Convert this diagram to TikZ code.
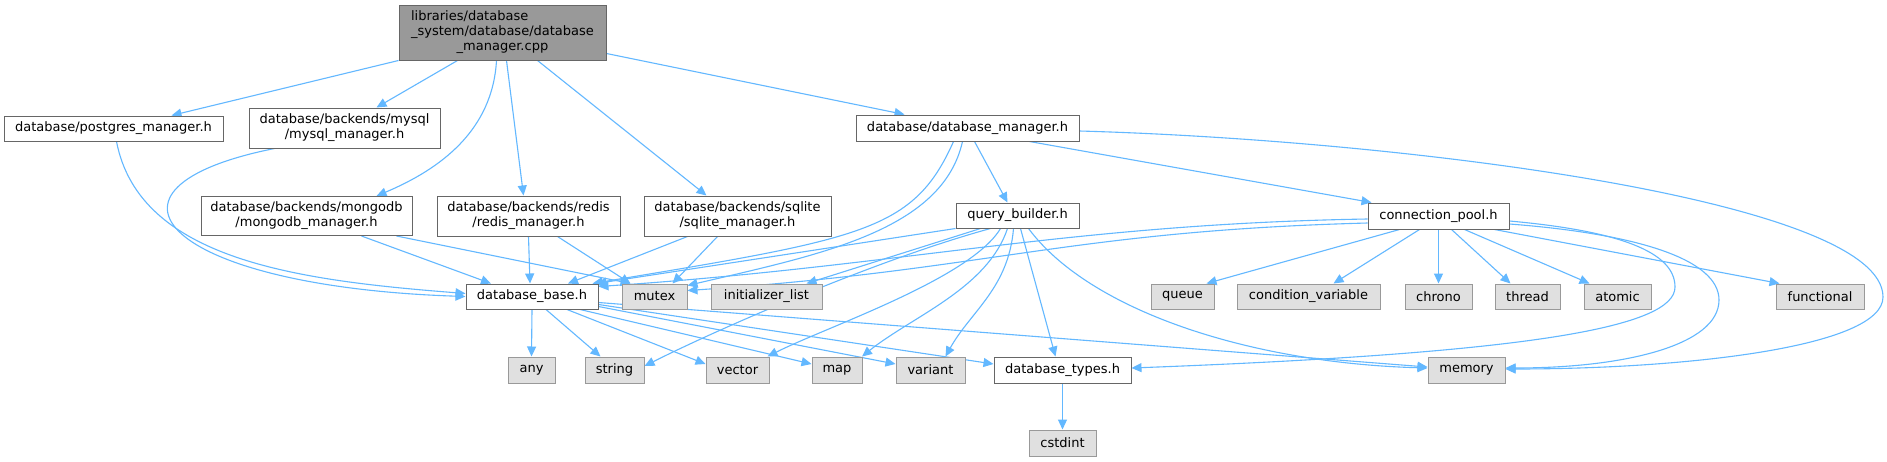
\documentclass[tikz,border=0pt]{standalone}
\usepackage{fontspec}
\setmainfont{DejaVu Sans}
\usetikzlibrary{arrows.meta}
\pgfdeclarelayer{edgelayer}
\pgfsetlayers{edgelayer,main}
\definecolor{edgec}{HTML}{63B8FF}
\definecolor{nodeb}{HTML}{666666}
\definecolor{extb}{HTML}{999999}
\definecolor{extf}{HTML}{E0E0E0}
\definecolor{rootf}{HTML}{999999}
\begin{document}
\begin{tikzpicture}[x=1pt,y=-1pt,
  box/.style={draw=nodeb, fill=white, line width=1pt, inner sep=0pt, align=center,
              font=\fontsize{13}{15}\selectfont, text=black},
  ext/.style={box, draw=extb, fill=extf},
  rootbox/.style={box, fill=rootf},
  dep/.style={draw=edgec, line width=1.1pt, -{Triangle[length=10pt,width=9pt]}}]
\begin{pgfonlayer}{edgelayer}
\fill[white] (0,0) rectangle (1887,461);
\end{pgfonlayer}
\useasboundingbox (0,0) rectangle (1887,461);

% nodes
\node[rootbox, minimum width=207pt, minimum height=55pt] (root) at (502.5,32.5)
  {\begin{tabular}{@{}l@{}}libraries/database\\\_system/database/database\\\multicolumn{1}{@{}c@{}}{\_manager.cpp}\end{tabular}};
\node[box, minimum width=219pt, minimum height=25pt] (postgres) at (113.5,128.5) {database/postgres\_manager.h};
\node[box, minimum width=191pt, minimum height=40pt] (mysql) at (344.5,128) {database/backends/mysql\\/mysql\_manager.h};
\node[box, minimum width=223pt, minimum height=26pt] (dbmgr) at (967.5,128) {database/database\_manager.h};
\node[box, minimum width=211pt, minimum height=39pt] (mongodb) at (306.5,216) {database/backends/mongodb\\/mongodb\_manager.h};
\node[box, minimum width=183pt, minimum height=40pt] (redis) at (528.5,216) {database/backends/redis\\/redis\_manager.h};
\node[box, minimum width=187pt, minimum height=40pt] (sqlite) at (737.5,216) {database/backends/sqlite\\/sqlite\_manager.h};
\node[box, minimum width=123pt, minimum height=25pt] (qb) at (1017.5,215.5) {query\_builder.h};
\node[box, minimum width=141pt, minimum height=26pt] (cpool) at (1438.5,216) {connection\_pool.h};
\node[box, minimum width=132pt, minimum height=25pt] (dbbase) at (532,296.5) {database\_base.h};
\node[ext, minimum width=65pt, minimum height=25pt] (mutex) at (654.5,296.5) {mutex};
\node[ext, minimum width=111pt, minimum height=25pt] (initlist) at (766.5,296.5) {initializer\_list};
\node[ext, minimum width=63pt, minimum height=25pt] (queue) at (1182.5,296.5) {queue};
\node[ext, minimum width=143pt, minimum height=25pt] (condvar) at (1308.5,296.5) {condition\_variable};
\node[ext, minimum width=67pt, minimum height=25pt] (chrono) at (1438.5,296.5) {chrono};
\node[ext, minimum width=65pt, minimum height=25pt] (thread) at (1527.5,296.5) {thread};
\node[ext, minimum width=67pt, minimum height=25pt] (atomic) at (1617.5,296.5) {atomic};
\node[ext, minimum width=88pt, minimum height=25pt] (functional) at (1820,296.5) {functional};
\node[ext, minimum width=47pt, minimum height=26pt] (any) at (531.5,370) {any};
\node[ext, minimum width=59pt, minimum height=26pt] (string) at (614.5,370) {string};
\node[ext, minimum width=63pt, minimum height=26pt] (vector) at (737.5,370) {vector};
\node[ext, minimum width=50pt, minimum height=26pt] (map) at (837,370) {map};
\node[ext, minimum width=69pt, minimum height=26pt] (variant) at (930.5,370) {variant};
\node[box, minimum width=137pt, minimum height=26pt] (dbtypes) at (1062.5,370) {database\_types.h};
\node[ext, minimum width=77pt, minimum height=26pt] (memory) at (1466.5,370) {memory};
\node[ext, minimum width=67pt, minimum height=26pt] (cstdint) at (1062.5,443) {cstdint};

\begin{pgfonlayer}{edgelayer}
% root edges
\draw[dep] (root.south west) -- ([xshift=58pt]postgres.north);
\draw[dep] ([xshift=-45pt]root.south) -- ([xshift=32pt]mysql.north);
\draw[dep] ([xshift=-6pt]root.south) .. controls +(-4,70) and +(64,-27) .. ([xshift=70pt]mongodb.north);
\draw[dep] ([xshift=4pt]root.south) -- ([xshift=-5pt]redis.north);
\draw[dep] ([xshift=35pt]root.south) -- ([xshift=-31pt]sqlite.north);
\draw[dep] ([yshift=-21pt]root.east) -- ([xshift=-63pt]dbmgr.north);

% backend edges
\draw[dep] ([xshift=3pt]postgres.south) .. controls +(23,119) and +(-166,-13) .. ([yshift=3pt]dbbase.west);
\draw[dep] ([xshift=-70pt]mysql.south) .. controls +(-200,40) and +(-300,-10) .. (dbbase.west);
\draw[dep] ([xshift=55pt]mongodb.south) -- ([xshift=-41pt]dbbase.north);
\draw[dep] ([xshift=90pt]mongodb.south) -- ([xshift=-24pt]mutex.north);
\draw[dep] (redis.south) -- ([xshift=-2pt]dbbase.north);
\draw[dep] ([xshift=29pt]redis.south) -- ([xshift=-24pt]mutex.north);
\draw[dep] ([xshift=-50pt]sqlite.south) -- ([xshift=36pt]dbbase.north);
\draw[dep] ([xshift=-20pt]sqlite.south) -- ([xshift=18pt]mutex.north);

% database_manager edges
\draw[dep] ([xshift=-14pt]dbmgr.south) .. controls +(-40,90) and +(270,-45) .. ([xshift=-6pt]dbbase.north east);
\draw[dep] ([xshift=-5pt]dbmgr.south) .. controls +(-20,89) and +(133,-31) .. ([yshift=-2pt]mutex.north east);
\draw[dep] ([xshift=7pt]dbmgr.south) -- ([xshift=-10pt]qb.north);
\draw[dep] ([xshift=62pt]dbmgr.south) -- ([xshift=-67pt]cpool.north);
\coordinate (r1) at (1883,297);
\draw[dep] ([yshift=-3pt]dbmgr.east) .. controls +(321,9) and +(0,-97) .. (r1) .. controls +(0,50) and +(180,0) .. ([yshift=1pt]memory.east);

% query_builder edges
\draw[dep] (qb.south west) -- ([xshift=-2pt]dbbase.north east);
\draw[dep] ([xshift=-37pt]qb.south) -- ([xshift=40pt]initlist.north);
\draw[dep] ([xshift=-27pt]qb.south) .. controls +(-110,30) and +(80,-40) .. ([yshift=4pt]string.east);
\draw[dep] ([xshift=-17pt]qb.south) .. controls +(-30,50) and +(60,-30) .. ([xshift=30pt]vector.north);
\draw[dep] ([xshift=-10pt]qb.south) .. controls +(-20,60) and +(50,-40) .. ([xshift=25pt]map.north);
\draw[dep] ([xshift=-4pt]qb.south) .. controls +(-5,60) and +(25,-45) .. ([xshift=15pt]variant.north);
\draw[dep] ([xshift=3pt]qb.south) -- ([xshift=-7pt]dbtypes.north);
\draw[dep] ([xshift=11pt]qb.south) .. controls +(61,82) and +(-178,-5) .. ([yshift=2pt]memory.west);

% connection_pool edges
\draw[dep] ([yshift=-3pt]cpool.west) .. controls +(-300,5) and +(300,-20) .. ([yshift=-3pt]dbbase.north east);
\draw[dep] ([yshift=-7pt]cpool.west) .. controls +(-300,8) and +(300,-20) .. ([yshift=6pt]mutex.east);
\draw[dep] ([xshift=-39pt]cpool.south) -- ([xshift=24pt]queue.north);
\draw[dep] ([xshift=-19pt]cpool.south) -- ([xshift=25pt]condvar.north);
\draw[dep] (cpool.south) -- (chrono.north);
\draw[dep] ([xshift=13pt]cpool.south) -- ([xshift=-17pt]thread.north);
\draw[dep] ([xshift=26pt]cpool.south) -- ([xshift=-28pt]atomic.north);
\draw[dep] ([xshift=56pt]cpool.south) -- ([xshift=4pt]functional.north west);
\coordinate (r2) at (1719,300);
\coordinate (r3) at (1675,287);
\draw[dep] ([yshift=-8pt]cpool.east) .. controls +(130,10) and +(0,-40) .. (r2) .. controls +(0,45) and +(120,0) .. ([yshift=2pt]memory.east);
\draw[dep] ([yshift=-5pt]cpool.east) .. controls +(110,10) and +(0,-35) .. (r3) .. controls +(0,40) and +(400,-15) .. ([yshift=2pt]dbtypes.east);

% database_base edges
\draw[dep] (dbbase.south) -- (any.north);
\draw[dep] ([xshift=14pt]dbbase.south) -- ([xshift=-14pt]string.north);
\draw[dep] ([xshift=35pt]dbbase.south) -- ([yshift=6pt]vector.west);
\draw[dep] ([xshift=48pt]dbbase.south) -- ([yshift=6pt]map.west);
\draw[dep] ([yshift=-10pt]dbbase.east) -- ([yshift=6pt]variant.west);
\draw[dep] ([yshift=-8pt]dbbase.east) -- ([yshift=6pt]dbtypes.west);
\draw[dep] ([yshift=-6pt]dbbase.east) -- ([yshift=3pt]memory.west);
\draw[dep] (dbtypes.south) -- (cstdint.north);
\end{pgfonlayer}
\end{tikzpicture}
\end{document}
